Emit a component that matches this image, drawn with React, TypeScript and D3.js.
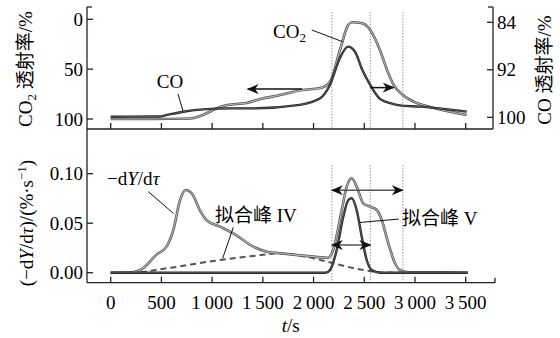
import React from "react";
import * as d3 from "d3";

// tick values
const xTicks = [0, 500, 1000, 1500, 2000, 2500, 3000, 3500];
const co2Ticks = [0, 50, 100];
const coTicks = [84, 92, 100];
const rateTicks = [0, 0.05, 0.1];
const guideT = [2180, 2560, 2880];

// top panel: CO2 transmittance (left axis, %)
const co2T = [0, 390, 780, 930, 1030, 1150, 1340, 1475, 1670, 1885, 2065, 2160, 2260, 2340, 2380, 2480, 2560, 2655, 2725, 2785, 2880, 3020, 3150, 3510];
const co2V = [100, 100, 99.5, 95, 90, 86, 84, 80, 76, 71, 69, 63, 31, 6, 3, 4, 11, 31, 51, 65, 76, 84, 88, 96];

// top panel: CO transmittance (right axis, %)
const coT = [0, 480, 555, 715, 880, 1175, 1375, 1865, 2065, 2160, 2260, 2340, 2410, 2480, 2560, 2655, 2755, 2850, 3050, 3510];
const coV = [99.9, 99.87, 99.6, 99.06, 98.7, 98.5, 98.5, 97.9, 96.8, 94.6, 90.0, 88.1, 89.0, 92.0, 94.6, 96.9, 97.6, 98.0, 98.2, 99.05];

// bottom panel: -dY/dtau
const rateT = [0, 190, 320, 450, 550, 617, 683, 739, 800, 880, 946, 1078, 1209, 1406, 1538, 1669, 1866, 2000, 2140, 2190, 2211, 2278, 2327, 2376, 2425, 2490, 2557, 2623, 2672, 2737, 2803, 2852, 2950, 3520];
const rateV = [0, 0.0002, 0.0047, 0.018, 0.0263, 0.043, 0.073, 0.0835, 0.08, 0.063, 0.053, 0.0465, 0.0398, 0.0263, 0.0212, 0.0196, 0.0175, 0.0162, 0.015, 0.022, 0.0297, 0.0633, 0.0869, 0.0954, 0.0869, 0.0701, 0.0667, 0.0633, 0.0532, 0.0297, 0.0095, 0.0027, 0.0002, 0];

// fitted peak IV (dashed)
const p4T = [0, 190, 550, 1010, 1405, 1670, 1866, 2130, 2330, 2490, 2655, 2850, 3500];
const p4V = [0, 0, 0.0044, 0.0118, 0.0169, 0.0194, 0.0172, 0.0113, 0.0061, 0.0027, 0.0003, 0, 0];

// fitted peak V
const p5T = [0, 2120, 2162, 2228, 2293, 2343, 2376, 2425, 2475, 2524, 2573, 2655, 3520];
const p5V = [0, 0, 0.0027, 0.0229, 0.0566, 0.0734, 0.0752, 0.0633, 0.0364, 0.0128, 0.0027, 0, 0];

const W = 560, H = 338;
const AX_L = 87, AX_R = 493;
const TOP_Y0 = 7, MID_Y = 129, BOT_Y = 282.7;

const x = d3.scaleLinear().domain([0, 3500]).range([110.7, 465.7]);
const yL = d3.scaleLinear().domain([0, 100]).range([19.3, 119]);
const yR = d3.scaleLinear().domain([84, 100]).range([22.3, 117.3]);
const yB = d3.scaleLinear().domain([0, 0.1]).range([272.7, 173.7]);

const pts = (t: number[], v: number[]) => t.map((d, i) => [d, v[i]] as [number, number]);

const lineL = d3.line<[number, number]>().x(d => x(d[0])).y(d => yL(d[1])).curve(d3.curveMonotoneX);
const lineR = d3.line<[number, number]>().x(d => x(d[0])).y(d => yR(d[1])).curve(d3.curveMonotoneX);
const lineB = d3.line<[number, number]>().x(d => x(d[0])).y(d => yB(d[1])).curve(d3.curveMonotoneX);

const fmtX = (v: number) => v >= 1000 ? `${Math.floor(v / 1000)}\u2009${String(v % 1000).padStart(3, "0")}` : String(v);

const SERIF = "'Liberation Serif', 'Times New Roman', 'Noto Sans CJK SC', serif";
const FS = 19;

export default function App() {
  const ax = "#222";
  return (
    <svg width={W} height={H} style={{ position: "absolute", left: 0, top: 0, background: "#fff" }}
      fontFamily={SERIF} fontSize={FS}>
      <defs>
        <marker id="ah" viewBox="0 0 12 10" refX="11" refY="5" markerWidth="12" markerHeight="10"
          markerUnits="userSpaceOnUse" orient="auto-start-reverse">
          <path d="M0,0 L12,5 L0,10 L3.5,5 Z" fill="#111" />
        </marker>
      </defs>

      {/* dotted guides */}
      {guideT.map(t => (
        <g key={t} stroke="#aaa" strokeWidth={1.2} strokeDasharray="1.5,1.5">
          <line x1={x(t)} x2={x(t)} y1={12} y2={MID_Y} />
          <line x1={x(t)} x2={x(t)} y1={165} y2={BOT_Y - 1} />
        </g>
      ))}

      {/* axes */}
      <g stroke={ax} strokeWidth={1.3} fill="none">
        <line x1={AX_L} x2={AX_L} y1={TOP_Y0} y2={BOT_Y} />
        <line x1={AX_L} x2={AX_L + 5} y1={TOP_Y0} y2={TOP_Y0} />
        <line x1={AX_R} x2={AX_R} y1={TOP_Y0} y2={MID_Y} />
        <line x1={AX_R - 5} x2={AX_R} y1={TOP_Y0} y2={TOP_Y0} />
        <line x1={AX_L} x2={AX_R} y1={MID_Y} y2={MID_Y} />
        <line x1={AX_L} x2={AX_R + 2} y1={BOT_Y} y2={BOT_Y} />
        <line x1={AX_R + 2} x2={AX_R + 2} y1={BOT_Y} y2={BOT_Y - 5} />
        {xTicks.map(t => (
          <g key={t}>
            <line x1={x(t)} x2={x(t)} y1={MID_Y} y2={MID_Y - 6} />
            <line x1={x(t)} x2={x(t)} y1={BOT_Y} y2={BOT_Y - 6} />
          </g>
        ))}
        {co2Ticks.map(v => <line key={v} x1={AX_L} x2={AX_L + 6} y1={yL(v)} y2={yL(v)} />)}
        {coTicks.map(v => <line key={v} x1={AX_R - 6} x2={AX_R} y1={yR(v)} y2={yR(v)} />)}
        {rateTicks.map(v => <line key={v} x1={AX_L} x2={AX_L + 6} y1={yB(v)} y2={yB(v)} />)}
      </g>

      {/* tick labels */}
      {co2Ticks.map(v => <text key={v} x={AX_L - 4} y={yL(v)} dy="0.35em" textAnchor="end">{v}</text>)}
      {coTicks.map(v => <text key={v} x={AX_R + 4} y={yR(v)} dy="0.35em">{v}</text>)}
      {rateTicks.map(v => <text key={v} x={AX_L - 4} y={yB(v)} dy="0.35em" textAnchor="end">{v.toFixed(2)}</text>)}
      {xTicks.map(t => <text key={t} x={x(t)} y={309} textAnchor="middle">{fmtX(t)}</text>)}

      {/* axis titles */}
      <text transform="translate(32,69) rotate(-90)" textAnchor="middle">
        CO<tspan dy="4" fontSize={13}>2</tspan><tspan dy="-4"> 透射率/%</tspan>
      </text>
      <text transform="translate(551,70) rotate(-90)" textAnchor="middle">CO 透射率/%</text>
      <text transform="translate(33,223) rotate(-90)" textAnchor="middle">
        (−d<tspan fontStyle="italic">Y</tspan>/d<tspan fontStyle="italic">τ</tspan>)/(%·s<tspan dy="-7" fontSize={13}>−1</tspan><tspan dy="7">)</tspan>
      </text>
      <text x={x(1775)} y={332} textAnchor="middle"><tspan fontStyle="italic">t</tspan>/s</text>

      {/* top curves */}
      <path d={lineL(pts(co2T, co2V)) || ""} fill="none" stroke="#555" strokeWidth={2.6} />
      <path d={lineL(pts(co2T, co2V)) || ""} fill="none" stroke="#b5b5b5" strokeWidth={1.1} />
      <path d={lineR(pts(coT, coV)) || ""} fill="none" stroke="#222" strokeWidth={2.4} />
      <path d={lineR(pts(coT, coV)) || ""} fill="none" stroke="#666" strokeWidth={0.8} />

      {/* bottom curves */}
      <path d={lineB(pts(p4T, p4V)) || ""} fill="none" stroke="#555" strokeWidth={2} strokeDasharray="6,4" />
      <path d={lineB(pts(rateT, rateV)) || ""} fill="none" stroke="#555" strokeWidth={2.6} />
      <path d={lineB(pts(rateT, rateV)) || ""} fill="none" stroke="#b5b5b5" strokeWidth={1.1} />
      <path d={lineB(pts(p5T, p5V)) || ""} fill="none" stroke="#222" strokeWidth={2.4} />
      <path d={lineB(pts(p5T, p5V)) || ""} fill="none" stroke="#666" strokeWidth={0.8} />

      {/* arrows */}
      <line x1={x(1886)} x2={x(1350)} y1={yL(70)} y2={yL(70)} stroke="#111" strokeWidth={1.5} markerEnd="url(#ah)" />
      <line x1={x(2557)} x2={x(2790)} y1={yR(95)} y2={yR(95)} stroke="#111" strokeWidth={1.5} markerEnd="url(#ah)" />
      <line x1={x(2180)} x2={x(2880)} y1={yB(0.0833)} y2={yB(0.0833)} stroke="#555" strokeWidth={1.6}
        markerStart="url(#ah)" markerEnd="url(#ah)" />
      <line x1={x(2180)} x2={x(2560)} y1={yB(0.028)} y2={yB(0.028)} stroke="#555" strokeWidth={1.6}
        markerStart="url(#ah)" markerEnd="url(#ah)" />

      {/* leaders */}
      <g stroke="#111" strokeWidth={1}>
        <line x1={x(663)} y1={yL(74.9)} x2={x(713)} y2={yL(92)} />
        <line x1={x(1982)} y1={yL(10.7)} x2={x(2287)} y2={yL(22.5)} />
        <line x1={x(371)} y1={yB(0.0818)} x2={x(617)} y2={yB(0.06)} />
        <line x1={x(1209)} y1={yB(0.0459)} x2={x(1104)} y2={yB(0.0145)} />
        <line x1={x(2453)} y1={yB(0.0507)} x2={x(2842)} y2={yB(0.0542)} />
      </g>

      {/* labels */}
      <text x={x(585)} y={yL(68.9)} textAnchor="middle">CO</text>
      <text x={x(1600)} y={yL(18.8)}>CO<tspan dy="4" fontSize={13}>2</tspan></text>
      <text x={x(-36)} y={yB(0.0886)}>−d<tspan fontStyle="italic">Y</tspan>/d<tspan fontStyle="italic">τ</tspan></text>
      <text x={x(1028)} y={yB(0.0512)}>拟合峰 IV</text>
      <text x={x(2872)} y={yB(0.0482)}>拟合峰 V</text>
    </svg>
  );
}
